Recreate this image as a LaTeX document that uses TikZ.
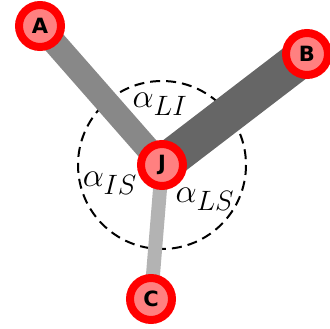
\documentclass[tikz,border=0pt]{standalone}
\usepackage{graphicx}
\usepackage{fontspec}
\setsansfont{DejaVu Sans}
\usetikzlibrary{backgrounds}
\definecolor{nodepink}{HTML}{FF8080}
\definecolor{edgeA}{HTML}{888888}
\definecolor{edgeB}{HTML}{666666}
\definecolor{edgeC}{HTML}{B3B3B3}
\newcommand{\anglab}[1]{\scalebox{1.35}{$#1$}}
\begin{document}
\begin{tikzpicture}[x=1pt,y=-1pt,
  vert/.style={circle,fill=nodepink,draw=red,line width=8pt,minimum size=42pt,inner sep=0pt,
    font=\fontsize{21}{25}\selectfont\sffamily\bfseries},
  angl/.style={inner sep=0pt,font=\fontsize{24.88}{30}\selectfont},
  ring/.style={draw=black,line width=2pt,dash pattern=on 10pt off 6pt}]
\useasboundingbox (0,0) rectangle (330,329);
\node[vert] (A) at (40,26) {A};
\node[vert] (B) at (307,54) {B};
\node[vert] (J) at (162,165) {J};
\node[vert] (C) at (151,299) {C};
\node[angl] (lLI) at (160,104) {\anglab{\alpha_{LI}}};
\node[angl] (lIS) at (110,183) {\anglab{\alpha_{IS}}};
\node[angl] (lLS) at (205,199) {\anglab{\alpha_{LS}}};
\begin{scope}[on background layer]
\draw[ring] (J.center) circle[radius=84];
\draw[edgeA,line width=24pt] (A.center) -- (J.center);
\draw[edgeB,line width=38pt] (B.center) -- (J.center);
\draw[edgeC,line width=14pt] (C.center) -- (J.center);
\end{scope}
\end{tikzpicture}
\end{document}
